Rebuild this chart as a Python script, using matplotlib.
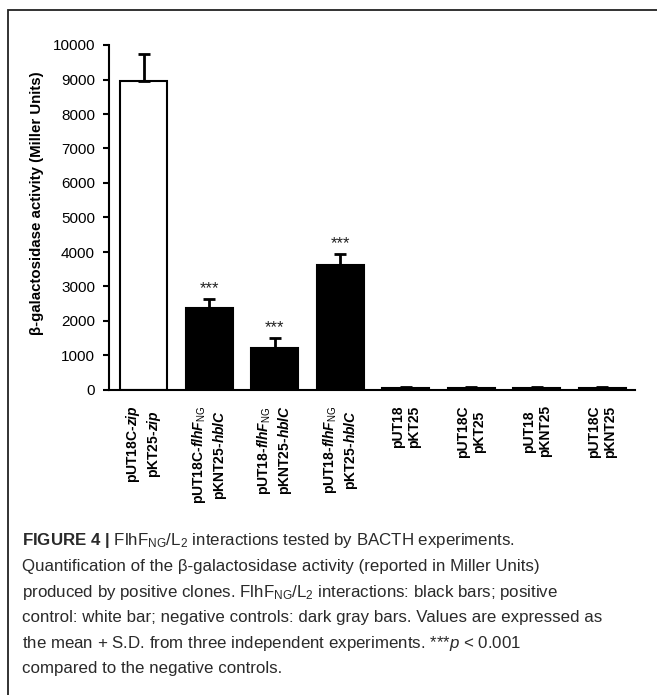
import numpy as np
import matplotlib
matplotlib.use('Agg')
import matplotlib.pyplot as plt
from matplotlib.patches import Rectangle

plt.rcParams['font.family'] = ['Liberation Sans', 'DejaVu Sans']
plt.rcParams['mathtext.fontset'] = 'custom'
plt.rcParams['mathtext.rm'] = 'Liberation Sans'
plt.rcParams['mathtext.it'] = 'Liberation Sans:italic'
plt.rcParams['mathtext.bf'] = 'Liberation Sans:bold'
plt.rcParams['mathtext.bfit'] = 'Liberation Sans:italic:bold'

# данные
labels = [
    'pUT18C-$\\mathbfit{zip}$\npKT25-$\\mathbfit{zip}$',
    'pUT18C-$\\mathbfit{flhF}_{\\mathrm{NG}}$\npKNT25-$\\mathbfit{hblC}$',
    'pUT18-$\\mathbfit{flhF}_{\\mathrm{NG}}$\npKNT25-$\\mathbfit{hblC}$',
    'pUT18-$\\mathbfit{flhF}_{\\mathrm{NG}}$\npKT25-$\\mathbfit{hblC}$',
    'pUT18\npKT25',
    'pUT18C\npKT25',
    'pUT18\npKNT25',
    'pUT18C\npKNT25',
]
values = [8950, 2380, 1230, 3620, 55, 55, 55, 55]
errors = [790, 250, 270, 330, 20, 20, 20, 20]
colors = ['white', 'black', 'black', 'black', '#333333', '#333333', '#333333', '#333333']
stars = ['', '***', '***', '***', '', '', '', '']

caption = [
    'FlhF$_{\\mathrm{NG}}$/L$_{\\mathrm{2}}$ interactions tested by BACTH experiments.',
    'Quantification of the \u03b2-galactosidase activity (reported in Miller Units)',
    'produced by positive clones. FlhF$_{\\mathrm{NG}}$/L$_{\\mathrm{2}}$ interactions: black bars; positive',
    'control: white bar; negative controls: dark gray bars. Values are expressed as',
    'the mean + S.D. from three independent experiments. ***$\\mathit{p}$ < 0.001',
    'compared to the negative controls.',
]

W, H = 657, 695
fig = plt.figure(figsize=(W / 100, H / 100), dpi=100)

# рамка вокруг рисунка
fig.patches.append(Rectangle((8 / W, -0.1), 1.2, 1 - 10 / H + 0.1, transform=fig.transFigure,
                             fill=False, edgecolor='#222222', linewidth=1.3))

ax = fig.add_axes([109 / W, 1 - 390 / H, (635 - 109) / W, (390 - 45) / H])

x = np.arange(len(values))
ax.bar(x, values, width=0.72, color=colors, edgecolor='black', linewidth=1.5, zorder=2)
for i in range(len(values)):
    ax.errorbar(x[i], values[i], yerr=[[0], [errors[i]]], color='black',
                elinewidth=2, capsize=4.5, capthick=2, zorder=3)
    if stars[i]:
        ax.text(x[i], values[i] + errors[i] + 80, stars[i], ha='center', va='bottom',
                fontsize=12, color='#222222')

ax.set_xlim(-0.53, 7.5)
ax.set_ylim(0, 10000)
ax.set_yticks(np.arange(0, 10001, 1000))
ax.tick_params(axis='y', labelsize=11, length=4, width=1.5, pad=6)
ax.set_xticks(x)
ax.set_xticklabels(labels, rotation=90, fontsize=10, fontweight='bold')
ax.tick_params(axis='x', length=0, pad=11)
for side in ['top', 'right']:
    ax.spines[side].set_visible(False)
for side in ['left', 'bottom']:
    ax.spines[side].set_linewidth(1.5)

fig.text(37 / W, 1 - 203 / H, '\u03b2-galactosidase activity (Miller Units)', rotation=90,
         ha='center', va='center', fontsize=10.8, fontweight='bold')

# подпись
fig.text(22 / W, 1 - 541 / H, '$\\mathbf{FIGURE\\ 4\\ |}$ ' + caption[0], fontsize=12.2,
         color='#2a2a2a', va='center')
for k in range(1, len(caption)):
    fig.text(22 / W, 1 - (541 + 25.6 * k) / H, caption[k], fontsize=12.2,
             color='#2a2a2a', va='center')

fig.savefig('out.png', dpi=100)
